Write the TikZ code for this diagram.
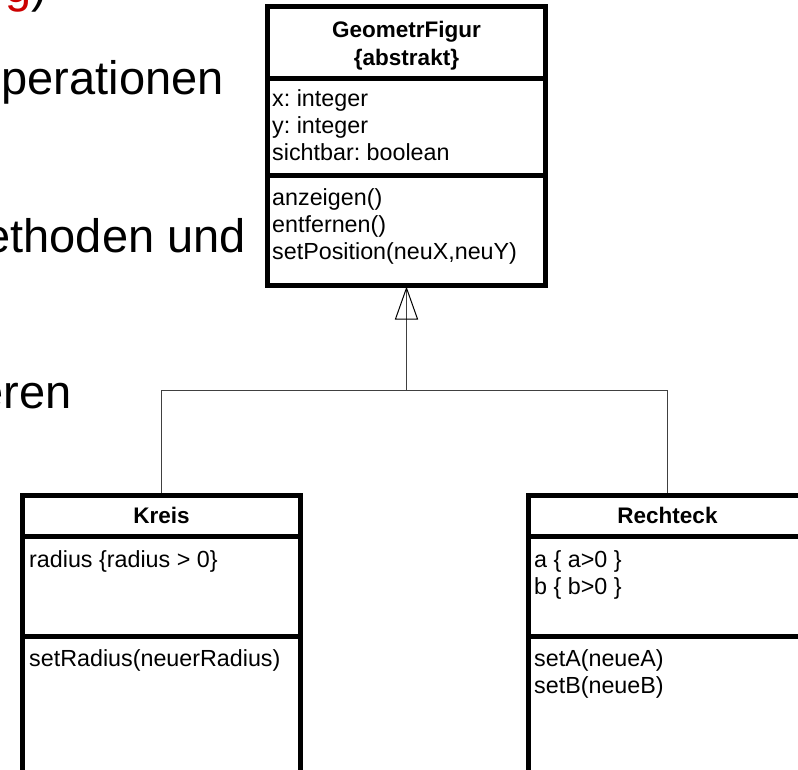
\documentclass[tikz,border=0pt]{standalone}
\usepackage{fontspec}
\setmainfont{Liberation Sans}
\usetikzlibrary{calc}
\definecolor{slidered}{RGB}{204,0,0}
\frenchspacing
\begin{document}
\begin{tikzpicture}[x=1pt,y=-1pt,
  umlbox/.style={draw, line width=5pt, minimum width=278pt, inner sep=0pt, fill=white},
  divider/.style={line width=5pt},
  txt/.style={font=\fontsize{23.3}{27}\selectfont, inner sep=0pt, anchor=base west},
  ttl/.style={font=\fontsize{22.5}{27}\selectfont\bfseries, inner sep=0pt, anchor=base},
  bgtxt/.style={font=\fontsize{47}{56}\selectfont, inner sep=0pt, anchor=base east},
  conn/.style={line width=1pt, black!75}]
\useasboundingbox (0,0) rectangle (798,770);
\clip (0,0) rectangle (798,770);
\fill[white] (0,0) rectangle (798,770);

% background slide text (cut off)
\node[bgtxt] (s1) at (47,3) {\textcolor{slidered}{g})};
\node[bgtxt] (s2) at (224,95) {perationen};
\node[bgtxt] (s3) at (246,253) {ethoden und};
\node[bgtxt] (s4) at (72,408) {eren};

% class boxes
\node[umlbox, minimum height=279pt] (gf) at (406.5,146) {};
\node[umlbox, minimum height=300pt] (kr) at (161.5,645.5) {};
\node[umlbox, minimum height=300pt] (re) at (667.5,645.5) {};

% dividers
\draw[divider] (gf.west |- 0,78.5) -- (gf.east |- 0,78.5);
\draw[divider] (gf.west |- 0,175.5) -- (gf.east |- 0,175.5);
\draw[divider] (kr.west |- 0,536.5) -- (kr.east |- 0,536.5);
\draw[divider] (kr.west |- 0,636.5) -- (kr.east |- 0,636.5);
\draw[divider] (re.west |- 0,536.5) -- (re.east |- 0,536.5);
\draw[divider] (re.west |- 0,636.5) -- (re.east |- 0,636.5);

% GeometrFigur texts
\node[ttl] (gft1) at (406.5,38) {GeometrFigur};
\node[ttl] (gft2) at (406.5,66) {\{abstrakt\}};
\node[txt] (gfa1) at (272,107) {x: integer};
\node[txt] (gfa2) at (272,134) {y: integer};
\node[txt] (gfa3) at (272,161) {sichtbar: boolean};
\node[txt] (gfm1) at (272,206) {anzeigen()};
\node[txt] (gfm2) at (272,233) {entfernen()};
\node[txt] (gfm3) at (272,260) {setPosition(neuX,neuY)};

% Kreis texts
\node[ttl] (krt) at (161.5,523) {Kreis};
\node[txt] (kra1) at (29,567) {radius \{radius > 0\}};
\node[txt] (krm1) at (29,666) {setRadius(neuerRadius)};

% Rechteck texts
\node[ttl] (ret) at (667.5,523) {Rechteck};
\node[txt] (rea1) at (534,567) {a \{ a>0 \}};
\node[txt] (rea2) at (534,594) {b \{ b>0 \}};
\node[txt] (rem1) at (534,666) {setA(neueA)};
\node[txt] (rem2) at (534,693) {setB(neueB)};

% generalisation connector
\coordinate (j) at (gf.south |- 0,390);
\coordinate (jk) at (kr.north |- j);
\coordinate (jr) at (re.north |- j);
\draw[conn] (j) -- (gf.south);
\draw[conn] (jk) -- (jr);
\draw[conn] (jk) -- (kr.north);
\draw[conn] (jr) -- (re.north);
\draw[line width=1pt, line join=miter] (gf.south) -- ++(-11,31) -- ++(22,0) -- cycle;
\end{tikzpicture}
\end{document}
